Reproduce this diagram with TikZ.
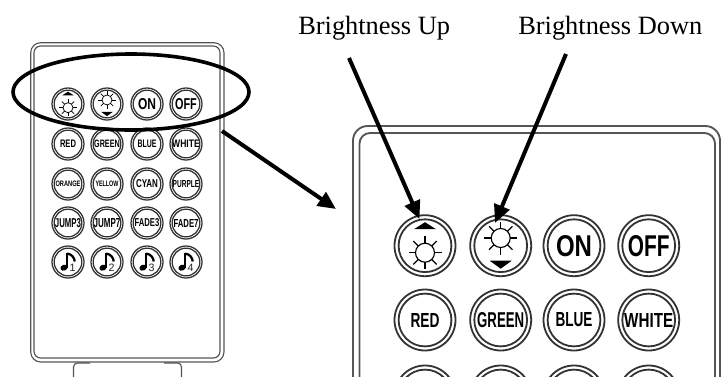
\documentclass[tikz,border=0pt]{standalone}
\usepackage{fontspec}
\setmainfont{Liberation Serif}
\setsansfont{Liberation Sans}
\usetikzlibrary{arrows.meta,shapes.geometric}
\newdimen\pxu \pxu=.75pt
\definecolor{ringc}{HTML}{333333}
\definecolor{shellc}{HTML}{555555}
\tikzset{
  ring/.style={circle,draw=ringc,line width=1.35pt,inner sep=0pt,text=black},
  ringsm/.style={circle,draw=ringc,line width=.95pt,inner sep=0pt,text=black},
  shellbig/.style={draw=shellc,line width=1.4pt},
  shellsm/.style={draw=shellc,line width=.85pt},
  pointer/.style={draw=black,line width=3pt,-{Triangle[length=13.5pt,width=12pt]}},
  lens/.style={ellipse,draw=black,line width=2.7pt,inner sep=0pt},
  caption/.style={inner sep=0pt,anchor=base west,font=\fontsize{19.8pt}{22pt}\selectfont}
}
% name, x, y, scale, ringstyle, content
\newcommand{\Btn}[6]{%
  \node[#5,minimum size=#4*45.75pt] (#1) at (#2,#3) {#6};
  \draw[#5,shape=coordinate] (#1.center) circle[radius=#4*19.8pt];
}
\newcommand{\Lab}[3]{\resizebox{#1\pxu}{#2\pxu}{\sffamily\bfseries #3}}
% x, y of button, scale, sun dy, line width
\newcommand{\Sun}[5]{%
  \begin{scope}[shift={(#1,#2)},scale=#3]
    \draw[black,line width=#5] (0,#4) circle[radius=9.5];
    \foreach \a in {0,45,...,315}{\draw[black,line width=#5] (0,#4) ++(\a:9.5) -- ++(\a:7);}
  \end{scope}}
\newcommand{\Tri}[5]{%
  \begin{scope}[shift={(#1,#2)},scale=#3]
    \fill[black] (-11,#5) -- (11,#5) -- (0,#4) -- cycle;
  \end{scope}}
\newcommand{\Note}[3]{%
  \begin{scope}[shift={(#1,#2)}]
    \fill[black,rotate around={20:(-4,5.7)}] (-4,5.7) ellipse[x radius=3.7,y radius=2.9];
    \draw[black,line width=1.1pt] (-1,5.5) -- (-1,-9);
    \draw[black,line width=1.7pt] (-1,-8.4) .. controls (4,-8) and (6.5,-4) .. (6.7,-0.5);
    \node[inner sep=0pt,text=black!85] at (4.6,6) {\fontsize{8pt}{9pt}\sffamily #3};
  \end{scope}}
\begin{document}
\begin{tikzpicture}[x=.75pt,y=-.75pt]
\useasboundingbox (0,0) rectangle (721,379);
\fill[white] (0,0) rectangle (721,379);
\begin{scope}
  \clip (0,0) rectangle (721,376.5);
  % small remote
  \draw[shellsm,rounded corners=7.5pt] (30.7,42.7) rectangle (224,362);
  \draw[shellsm,rounded corners=5pt] (34,46) rectangle (220,358);
  \draw[shellsm,rounded corners=3pt] (90,363) -- (73.5,363) -- (73.5,385);
  \draw[shellsm,rounded corners=3pt] (164,363) -- (181.5,363) -- (181.5,385);
  % large remote
  \draw[shellbig,rounded corners=11pt] (353,126) rectangle (720,400);
  \draw[shellbig,rounded corners=8pt] (359.5,133) rectangle (715,400);
  % large row 3 rings
  \foreach \n/\x in {la/425,lb/500.7,lc/574,ld/648.7}{
    \node[ring,minimum size=45.75pt] (\n) at (\x,396) {};
    \draw[ring,shape=coordinate] (\n.center) circle[radius=19.8pt];
  }
\end{scope}
% small remote buttons
\def\s{.525}
\Btn{sup}{68}{104}{\s}{ringsm}{}
\Btn{sdn}{107}{104}{\s}{ringsm}{}
\Btn{son}{147}{104}{\s}{ringsm}{\Lab{18}{11}{ON}}
\Btn{sof}{186}{104}{\s}{ringsm}{\Lab{21.7}{11}{OFF}}
\Btn{sred}{68}{144}{\s}{ringsm}{\Lab{16}{7.5}{RED}}
\Btn{sgrn}{107}{144}{\s}{ringsm}{\Lab{25.6}{7.5}{GREEN}}
\Btn{sblu}{147}{144}{\s}{ringsm}{\Lab{19}{7.5}{BLUE}}
\Btn{swht}{186}{144}{\s}{ringsm}{\Lab{27.6}{7.5}{WHITE}}
\Btn{sorg}{68}{184}{\s}{ringsm}{\Lab{25}{5.5}{ORANGE}}
\Btn{syel}{107}{184}{\s}{ringsm}{\Lab{23}{5.5}{YELLOW}}
\Btn{scyn}{147}{184}{\s}{ringsm}{\Lab{22}{8}{CYAN}}
\Btn{spur}{186}{184}{\s}{ringsm}{\Lab{26.7}{7}{PURPLE}}
\Btn{sj3}{68}{223}{\s}{ringsm}{\Lab{26}{9}{JUMP3}}
\Btn{sj7}{107}{223}{\s}{ringsm}{\Lab{26.7}{9}{JUMP7}}
\Btn{sf3}{147}{223}{\s}{ringsm}{\Lab{24.7}{8}{FADE3}}
\Btn{sf7}{186}{223}{\s}{ringsm}{\Lab{25}{8}{FADE7}}
\Btn{sm1}{68}{262}{\s}{ringsm}{}
\Btn{sm2}{107}{262}{\s}{ringsm}{}
\Btn{sm3}{147}{262}{\s}{ringsm}{}
\Btn{sm4}{186}{262}{\s}{ringsm}{}
\Note{68}{262}{1}\Note{107}{262}{2}\Note{147}{262}{3}\Note{186}{262}{4}
\Sun{68}{104}{\s}{7}{.55pt}\Tri{68}{104}{\s}{-23.5}{-16.5}
\Sun{107}{104}{\s}{-7.7}{.55pt}\Tri{107}{104}{\s}{23}{15}
% large remote buttons
\Btn{lup}{425}{245.7}{1}{ring}{}
\Btn{ldn}{500.7}{245.7}{1}{ring}{}
\Btn{lon}{574}{245.7}{1}{ring}{\Lab{36}{21}{ON}}
\Btn{lof}{648.7}{245.7}{1}{ring}{\Lab{41.7}{21}{OFF}}
\Btn{lred}{425}{320}{1}{ring}{\Lab{29}{14}{RED}}
\Btn{lgrn}{500.7}{320}{1}{ring}{\Lab{47}{15}{GREEN}}
\Btn{lblu}{574}{320}{1}{ring}{\Lab{37}{14}{BLUE}}
\Btn{lwht}{648.7}{320}{1}{ring}{\Lab{49}{14}{WHITE}}
\Sun{425}{245.7}{1}{7}{.85pt}\Tri{425}{245.7}{1}{-23.5}{-16.5}
\Sun{500.7}{245.7}{1}{-7.7}{.85pt}\Tri{500.7}{245.7}{1}{23}{15}
% selection ellipse
\node[lens,minimum width=177pt,minimum height=57pt] (sel) at (131,92) {};
% captions
\node[caption] (capup) at (298,34) {Brightness Up};
\node[caption] (capdn) at (518,34) {Brightness Down};
% pointers
\coordinate (p1a) at (349,58); \coordinate (p1b) at (419.5,219);
\coordinate (p2a) at (566,54); \coordinate (p2b) at (495,223);
\coordinate (p3a) at (222,131); \coordinate (p3b) at (336,209);
\draw[pointer] (p1a) -- (p1b);
\draw[pointer] (p2a) -- (p2b);
\draw[pointer] (p3a) -- (p3b);
\end{tikzpicture}
\end{document}
